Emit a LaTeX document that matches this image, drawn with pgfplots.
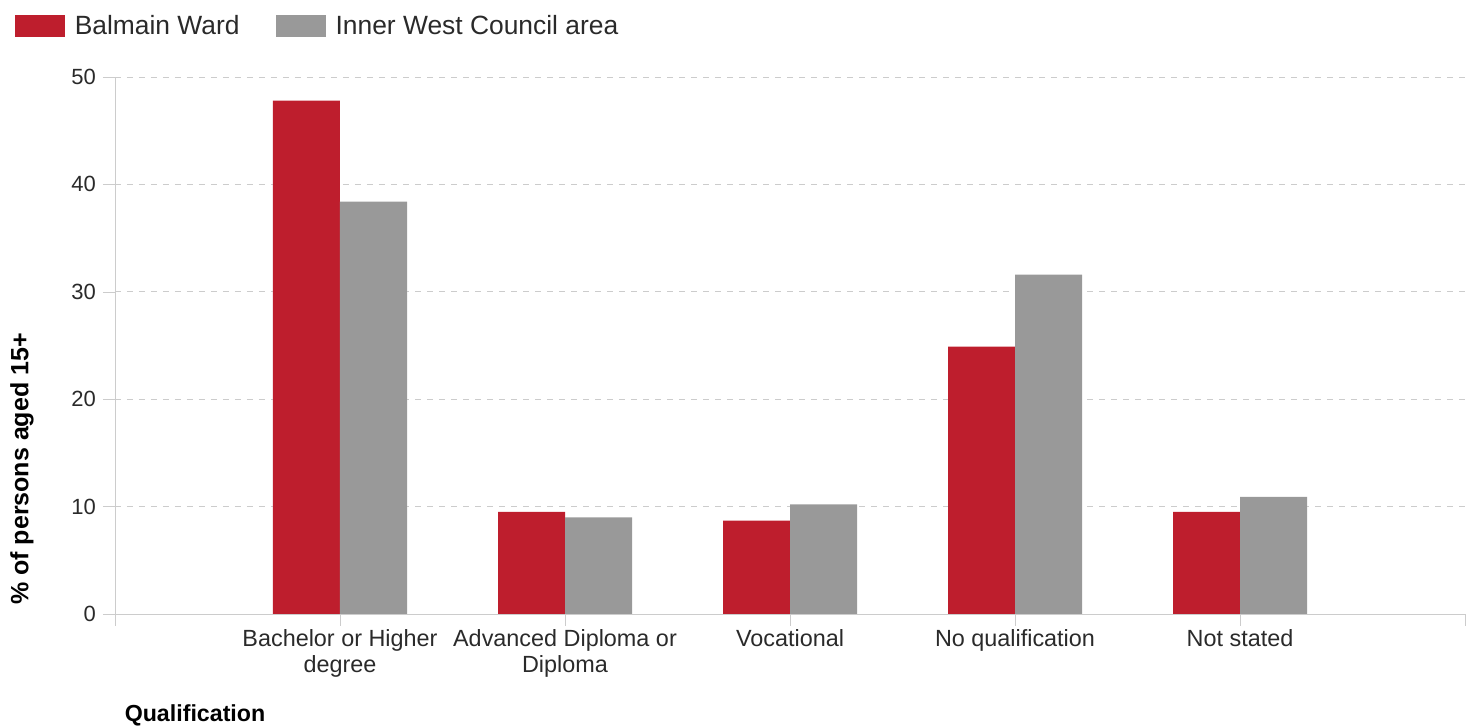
\documentclass[border=0pt]{standalone}
\usepackage{pgfplots}
\pgfplotsset{compat=1.18}
\usepackage{fontspec}
\setmainfont{Liberation Sans}
\definecolor{balred}{HTML}{BE1E2D}
\definecolor{iwgray}{HTML}{999999}
\definecolor{gridc}{HTML}{CCCCCC}
\definecolor{txt}{HTML}{2A2A2A}
\begin{document}
\begin{tikzpicture}
\path[use as bounding box] (-57.5pt,-56.5pt) rectangle (676.5pt,307pt);
\begin{axis}[
  at={(0,0)}, anchor=south west,
  scale only axis,
  width=675pt, height=268.5pt,
  ybar=0pt, bar width=33.5pt,
  xmin=-1, xmax=5,
  ymin=0, ymax=50,
  xtick={-1,0,1,2,3,4,5},
  xticklabels={,{Bachelor or Higher\\degree},{Advanced Diploma or\\Diploma},Vocational,No qualification,Not stated,},
  xticklabel style={align=center, font=\fontsize{11.7}{13}\selectfont, text=txt, yshift=2pt},
  ytick={0,10,20,30,40,50},
  yticklabel style={font=\fontsize{11}{12}\selectfont, text=txt},
  /pgf/number format/assume math mode=true,
  axis lines=left,
  axis line style={-, gridc},
  tick style={gridc},
  tick align=outside,
  major tick length=6pt,
  ymajorgrids,
  major grid style={gridc, dashed},
  ylabel={\% of persons aged 15+},
  ylabel style={font=\bfseries\fontsize{12.5}{14}\selectfont, text=black, at={(axis description cs:-0.069,0.27)}, anchor=center},
  xlabel={Qualification},
  xlabel style={font=\bfseries\fontsize{11.6}{13}\selectfont, text=black, at={(axis description cs:0.002,-0.188)}, anchor=west},
  legend columns=2,
  legend style={draw=none, fill=none, at={(axis description cs:-0.079,1.095)}, anchor=west,
    font=\fontsize{13.2}{15}\selectfont, text=txt,
    /tikz/every odd column/.append style={column sep=3pt},
    /tikz/every even column/.append style={column sep=16pt}},
  legend image code/.code={\fill[#1] (0pt,-5.5pt) rectangle (25pt,5.5pt);},
]
\addplot[fill=balred, draw=none] coordinates {(0,47.8) (1,9.5) (2,8.7) (3,24.9) (4,9.5)};
\addplot[fill=iwgray, draw=none] coordinates {(0,38.4) (1,9.0) (2,10.2) (3,31.6) (4,10.9)};
\legend{Balmain Ward, Inner West Council area}
\end{axis}
\end{tikzpicture}
\end{document}
